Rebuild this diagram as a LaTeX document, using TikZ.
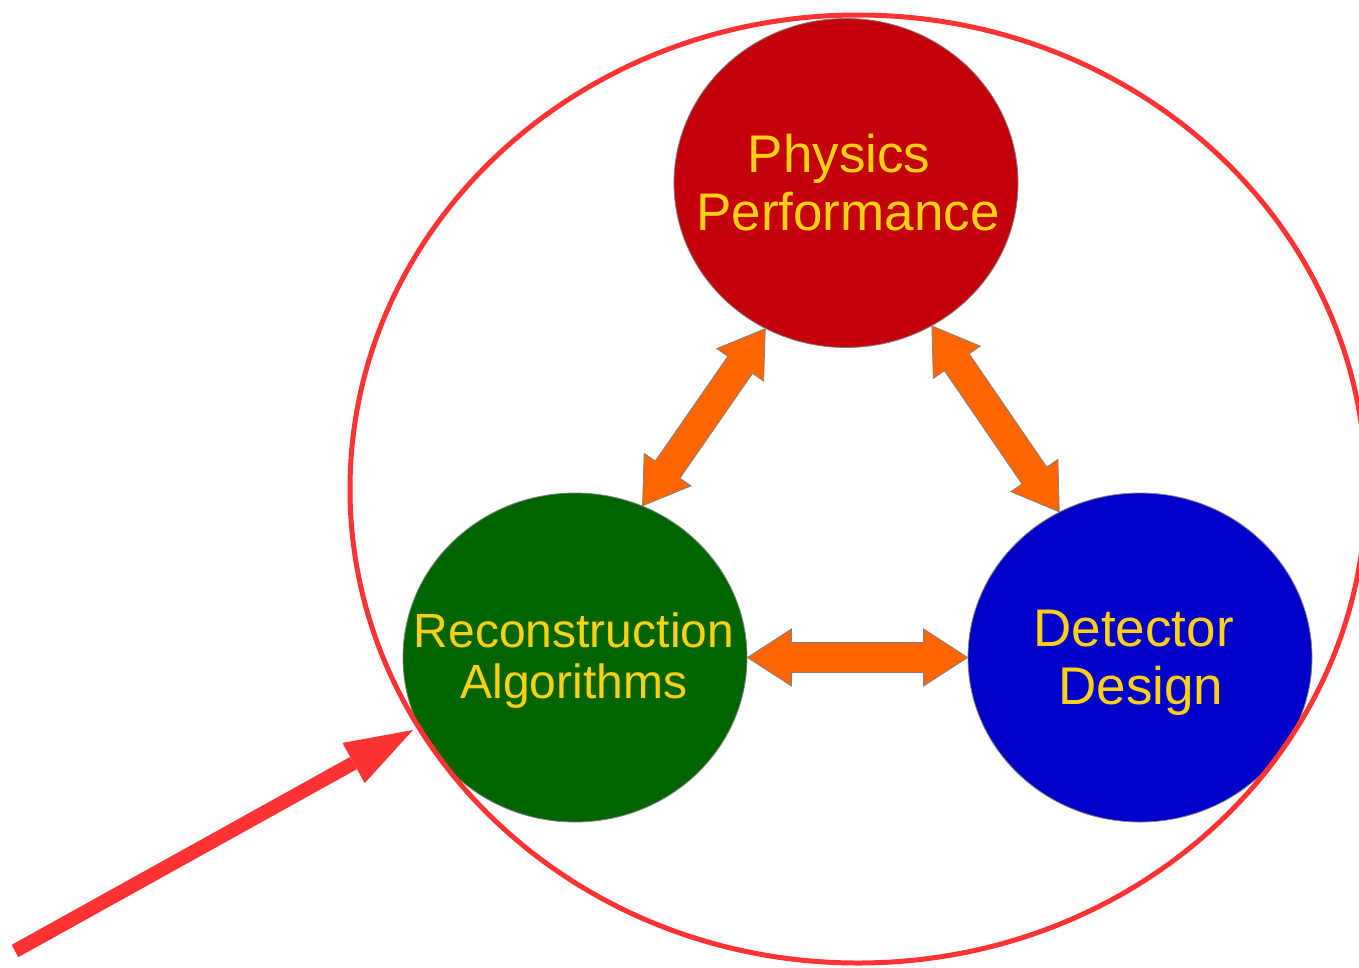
\documentclass[tikz,border=0pt]{standalone}
\usepackage{fontspec}
\setmainfont{Liberation Sans}
\usetikzlibrary{shapes.geometric,calc,arrows.meta}
\definecolor{cred}{RGB}{196,0,11}
\definecolor{cgreen}{RGB}{0,100,0}
\definecolor{cblue}{RGB}{0,0,200}
\definecolor{ctext}{RGB}{255,208,20}
\definecolor{corange}{RGB}{255,102,0}
\definecolor{cring}{RGB}{255,51,51}
\newcommand\DblArr[2]{%
  \path[dblarr] (#1)
    -- ($(#1)!44pt!(#2)!28.5pt!90:(#2)$)
    -- ($(#1)!44pt!(#2)!15pt!90:(#2)$)
    -- ($(#2)!44pt!(#1)!15pt!-90:(#1)$)
    -- ($(#2)!44pt!(#1)!28.5pt!-90:(#1)$)
    -- (#2)
    -- ($(#2)!44pt!(#1)!28.5pt!90:(#1)$)
    -- ($(#2)!44pt!(#1)!15pt!90:(#1)$)
    -- ($(#1)!44pt!(#2)!15pt!-90:(#2)$)
    -- ($(#1)!44pt!(#2)!28.5pt!-90:(#2)$)
    -- cycle;}
\begin{document}
\begin{tikzpicture}[x=1pt,y=-1pt,
  circ/.style={ellipse, draw=gray, line width=0.8pt, inner sep=0pt,
    minimum width=344pt, minimum height=329pt},
  lbl/.style={text=ctext, align=center, inner sep=0pt},
  big/.style={lbl, font=\fontsize{53}{58}\selectfont},
  mid/.style={lbl, font=\fontsize{48}{51}\selectfont},
  dblarr/.style={fill=corange, draw=gray, line width=0.8pt, line join=miter},
  ring/.style={ellipse, draw=cring, line width=5pt, inner sep=0pt,
    minimum width=1016pt, minimum height=948pt},
  pointer/.style={draw=cring, line width=14pt,
    -{Triangle[length=68pt,width=46pt,line width=0pt]}}]
\useasboundingbox (0,0) rectangle (1359,967);
\fill[white] (0,0) rectangle (1359,967);
% circles
\node[circ, fill=cred]   (phys) at (846,183)   {};
\node[circ, fill=cgreen] (rec)  at (575,657.5) {};
\node[circ, fill=cblue]  (det)  at (1140,657.5) {};
% texts
\node[big] (physt) at (848,182.4) {Physics\rule{18pt}{0pt}\\Performance};
\node[mid] (rect)  at (574,660.5) {Reconstruction\\Algorithms};
\node[big] (dett)  at (1141,662.6) {Detector\rule{15pt}{0pt}\\Design};
% double arrows
\DblArr{phys.241}{rec.66}
\DblArr{phys.301}{det.119}
\DblArr{rec.east}{det.west}
% ring
\node[ring] (ringnode) at (858,489) {};
% pointer
\coordinate (pstart) at (15,951);
\coordinate (ptip) at (413,730);
\draw[pointer] (pstart) -- (ptip);
\end{tikzpicture}
\end{document}
